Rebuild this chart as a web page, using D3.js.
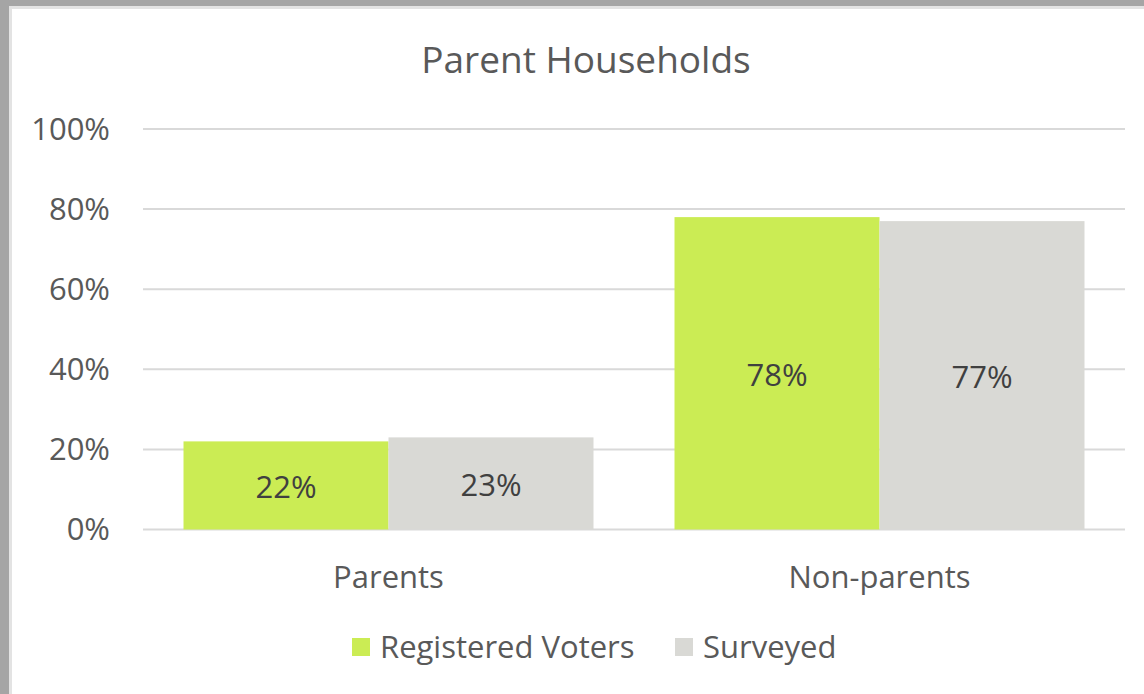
<!DOCTYPE html>
<html>
<head>
<meta charset="utf-8">
<script src="https://cdn.jsdelivr.net/npm/d3@7"></script>
<style>
  html, body { margin: 0; padding: 0; background: #a5a5a5; }
  svg { display: block; }
</style>
</head>
<body>
<svg id="chart"></svg>
<script>
let width = 1144;
let height = 694;

const categories = ["Parents", "Non-parents"];
const seriesNames = ["Registered Voters", "Surveyed"];
const registeredVoters = [22, 78];
const surveyed = [23, 77];
const yTicks = [0, 20, 40, 60, 80, 100];

const colors = ["#cbec54", "#d9d9d5"];
const font = "'Open Sans', sans-serif";

let svg = d3.select("svg#chart").attr("width", width).attr("height", height);

// outer frame like the screenshot
svg.append("rect").attr("width", width).attr("height", height).attr("fill", "#a5a5a5");
svg.append("rect").attr("x", 9).attr("y", 6).attr("width", width).attr("height", height).attr("fill", "#e3e3e3");
svg.append("rect").attr("x", 12).attr("y", 9).attr("width", width).attr("height", height).attr("fill", "#ffffff");

let plot = { left: 143, right: 1125, top: 129, bottom: 529.5 };

let x0 = d3.scaleBand().domain(categories).range([plot.left, plot.right]);
let x1 = d3.scaleBand().domain(seriesNames).range([0, x0.bandwidth()]).paddingOuter(0.1976);
let y = d3.scaleLinear().domain([0, 100]).range([plot.bottom, plot.top]);

// gridlines
svg.append("g")
  .selectAll("line")
  .data(yTicks)
  .join("line")
  .attr("x1", plot.left)
  .attr("x2", plot.right)
  .attr("y1", (d) => y(d))
  .attr("y2", (d) => y(d))
  .attr("stroke", "#d9d9d9")
  .attr("stroke-width", 2);

// y tick labels
svg.append("g")
  .selectAll("text")
  .data(yTicks)
  .join("text")
  .attr("x", 110)
  .attr("y", (d) => y(d))
  .attr("dy", "0.35em")
  .attr("text-anchor", "end")
  .attr("fill", "#595959")
  .style("font-family", font)
  .style("font-size", "31px")
  .text((d) => d + "%");

let rows = categories.map((c, i) => ({
  category: c,
  values: [registeredVoters[i], surveyed[i]],
}));

let groups = svg.append("g")
  .selectAll("g")
  .data(rows)
  .join("g")
  .attr("transform", (d) => `translate(${x0(d.category)},0)`);

let bars = groups.selectAll("g.bar")
  .data((d) => d.values.map((v, i) => ({ series: seriesNames[i], value: v, i: i })))
  .join("g")
  .attr("class", "bar");

bars.append("rect")
  .attr("x", (d) => x1(d.series))
  .attr("width", x1.bandwidth())
  .attr("y", (d) => y(d.value))
  .attr("height", (d) => y(0) - y(d.value))
  .attr("fill", (d) => colors[d.i]);

bars.append("text")
  .attr("x", (d) => x1(d.series) + x1.bandwidth() / 2)
  .attr("y", (d) => (y(d.value) + y(0)) / 2 + 2)
  .attr("dy", "0.35em")
  .attr("text-anchor", "middle")
  .attr("fill", "#404040")
  .style("font-family", font)
  .style("font-size", "31px")
  .text((d) => d.value + "%");

// category labels
svg.append("g")
  .selectAll("text")
  .data(categories)
  .join("text")
  .attr("x", (d) => x0(d) + x0.bandwidth() / 2)
  .attr("y", 577)
  .attr("dy", "0.35em")
  .attr("text-anchor", "middle")
  .attr("fill", "#595959")
  .style("font-family", font)
  .style("font-size", "31px")
  .text((d) => d);

// title
svg.append("text")
  .attr("x", 586)
  .attr("y", 60)
  .attr("dy", "0.35em")
  .attr("text-anchor", "middle")
  .attr("fill", "#595959")
  .style("font-family", font)
  .style("font-size", "37px")
  .text("Parent Households");

// legend
let legendX = [352, 675];
let legend = svg.append("g")
  .selectAll("g")
  .data(seriesNames)
  .join("g")
  .attr("transform", (d, i) => `translate(${legendX[i]}, 647)`);

legend.append("rect")
  .attr("x", 0)
  .attr("y", -9)
  .attr("width", 18)
  .attr("height", 18)
  .attr("fill", (d, i) => colors[i]);

legend.append("text")
  .attr("x", 28)
  .attr("y", 0)
  .attr("dy", "0.35em")
  .attr("fill", "#595959")
  .style("font-family", font)
  .style("font-size", "31px")
  .text((d) => d);
</script>
</body>
</html>
